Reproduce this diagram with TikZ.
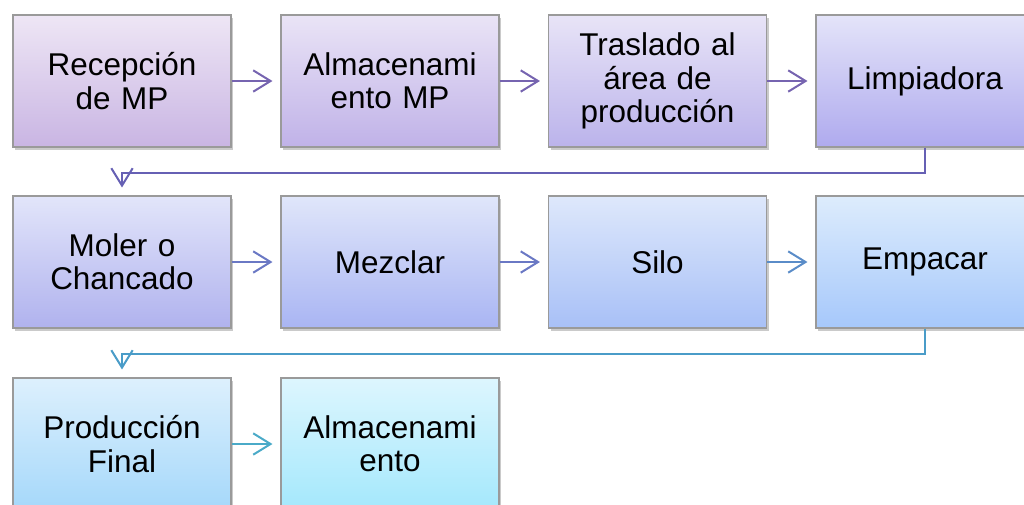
\documentclass[tikz,border=0pt]{standalone}
\usepackage{fontspec}
\setmainfont{Liberation Sans}
\usetikzlibrary{arrows.meta,shadows}
\definecolor{t1}{HTML}{EEE6F5}\definecolor{b1}{HTML}{C9B5E3}
\definecolor{t2}{HTML}{EAE4F6}\definecolor{b2}{HTML}{C0B2E8}
\definecolor{t3}{HTML}{E8E4F7}\definecolor{b3}{HTML}{BBB3EB}
\definecolor{t4}{HTML}{E4E4F9}\definecolor{b4}{HTML}{AFAAEE}
\definecolor{t5}{HTML}{E2E5FA}\definecolor{b5}{HTML}{B0B2EE}
\definecolor{t6}{HTML}{E0E6FA}\definecolor{b6}{HTML}{A9B5F3}
\definecolor{t7}{HTML}{DEE8FB}\definecolor{b7}{HTML}{A8C0F7}
\definecolor{t8}{HTML}{DDECFC}\definecolor{b8}{HTML}{A6C8FB}
\definecolor{t9}{HTML}{DDF0FD}\definecolor{b9}{HTML}{A5D8FA}
\definecolor{t10}{HTML}{DDF6FE}\definecolor{b10}{HTML}{A4E8FC}
\definecolor{a1}{HTML}{7664B0}
\definecolor{c1}{HTML}{6660B4}
\definecolor{a2}{HTML}{6A78C4}
\definecolor{a3}{HTML}{5A8CC8}
\definecolor{c2}{HTML}{4A9CC8}
\definecolor{a4}{HTML}{4AAAC8}
\definecolor{bord}{HTML}{9A9A9A}
\tikzset{
  procbox/.style={draw=bord, line width=0.8pt, minimum width=163.5pt, minimum height=99pt,
    inner sep=0pt, align=center, text width=160pt,
    font=\fontsize{23.6pt}{25pt}\selectfont,
    drop shadow={shadow xshift=1.5pt, shadow yshift=-2pt, opacity=0.35, fill=black!60}},
  flow/.style={line width=1.5pt, -{Straight Barb[length=13pt,width=16pt,line width=1.5pt]}, shorten >=6pt}
}
\begin{document}
\begin{tikzpicture}[x=0.75pt,y=-0.75pt]
\useasboundingbox (0,0) rectangle (1024,504);
\clip (0,0) rectangle (1024,504);
% row 1
\node[procbox, top color=t1, bottom color=b1] (n1) at (122,81) {Recepción\\de MP};
\node[procbox, top color=t2, bottom color=b2] (n2) at (390,81) {Almacenami\\ento MP};
\node[procbox, top color=t3, bottom color=b3] (n3) at (657.5,81) {Traslado al\\área de\\producción};
\node[procbox, top color=t4, bottom color=b4] (n4) at (925,81) {Limpiadora};
% row 2
\node[procbox, top color=t5, bottom color=b5] (n5) at (122,262) {Moler o\\Chancado};
\node[procbox, top color=t6, bottom color=b6] (n6) at (390,262) {Mezclar};
\node[procbox, top color=t7, bottom color=b7] (n7) at (657.5,262) {Silo};
\node[procbox, top color=t8, bottom color=b8] (n8) at (925,262) {Empacar};
% row 3
\node[procbox, top color=t9, bottom color=b9] (n9) at (122,444) {Producción\\Final};
\node[procbox, top color=t10, bottom color=b10] (n10) at (390,444) {Almacenami\\ento};
% arrows
\draw[flow, a1] (n1) -- (n2);
\draw[flow, a1] (n2) -- (n3);
\draw[flow, a1] (n3) -- (n4);
\draw[flow, a2] (n5) -- (n6);
\draw[flow, a2] (n6) -- (n7);
\draw[flow, a3] (n7) -- (n8);
\draw[flow, a4] (n9) -- (n10);
\draw[flow, c1] (n4.south) |- ++(0,25) -| (n5.north);
\draw[flow, c2] (n8.south) |- ++(0,25) -| (n9.north);
\end{tikzpicture}
\end{document}
